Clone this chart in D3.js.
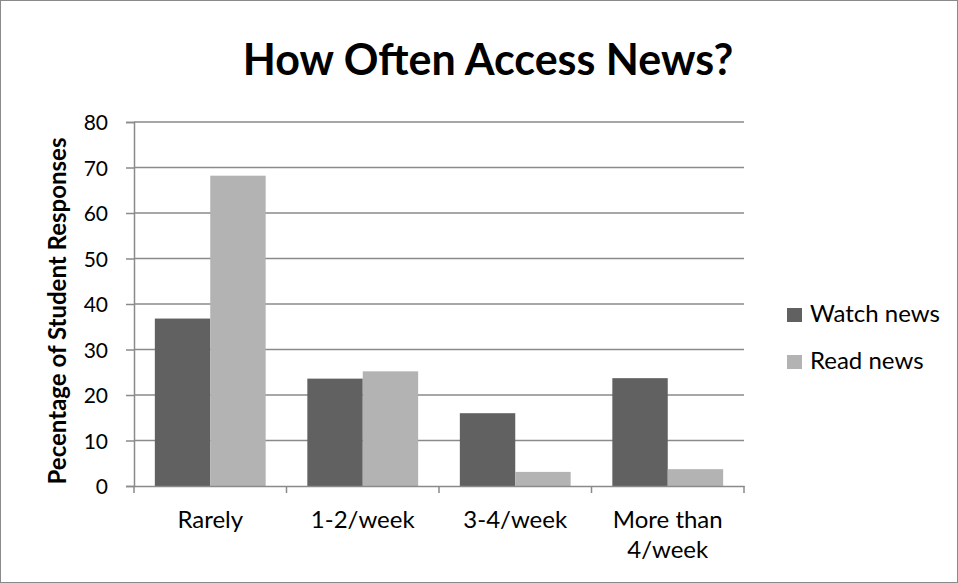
<!DOCTYPE html>
<html>
<head>
<meta charset="utf-8">
<script src="https://cdn.jsdelivr.net/npm/d3@7"></script>
<style>
  body { margin: 0; background: #fff; }
  svg { display: block; }
  svg text { font-family: Lato, "Open Sans", sans-serif; }
</style>
</head>
<body>
<div id="chart"></div>
<script>
// data
const categories = ['Rarely', '1-2/week', '3-4/week', 'More than 4/week'];
const seriesNames = ['Watch news', 'Read news'];
const watchNews = [36.8, 23.6, 16.0, 23.7];
const readNews = [68.2, 25.2, 3.1, 3.7];
const yTicks = [0, 10, 20, 30, 40, 50, 60, 70, 80];
const colors = ['#616161', '#b3b3b3'];

const width = 958;
const height = 583;
const margin = {top: 122, left: 134, right: 214, bottom: 97};
const plotW = width - margin.left - margin.right;
const plotH = height - margin.top - margin.bottom;
const axisColor = '#8a8a8a';

const svg = d3.select('#chart').append('svg').attr('width', width).attr('height', height);

// outer border
svg.append('rect').attr('x', 0.5).attr('y', 0.5).attr('width', width - 1).attr('height', height - 1)
  .attr('fill', '#fff').attr('stroke', axisColor);

const x = d3.scaleBand().domain(categories).range([0, plotW]).paddingInner(0).paddingOuter(0);
const xInner = d3.scaleBand().domain(seriesNames).range([0, x.bandwidth()]).paddingInner(0).paddingOuter(0.376);
const y = d3.scaleLinear().domain([0, 80]).range([plotH, 0]);

const g = svg.append('g').attr('transform', 'translate(' + margin.left + ',' + margin.top + ')');

// gridlines
g.selectAll('.grid').data(yTicks.filter(d => d > 0)).enter().append('line')
  .attr('x1', 0).attr('x2', plotW).attr('y1', d => y(d)).attr('y2', d => y(d))
  .attr('stroke', axisColor).attr('stroke-width', 1.5);

// bars
const rows = categories.map((c, i) => ({cat: c, vals: [watchNews[i], readNews[i]]}));
const groups = g.selectAll('.grp').data(rows).enter().append('g')
  .attr('transform', d => 'translate(' + x(d.cat) + ',0)');
groups.selectAll('rect').data(d => d.vals.map((v, j) => ({name: seriesNames[j], v: v, j: j}))).enter().append('rect')
  .attr('x', d => xInner(d.name)).attr('width', xInner.bandwidth())
  .attr('y', d => y(d.v)).attr('height', d => plotH - y(d.v))
  .attr('fill', d => colors[d.j]);

// y axis
const yAxis = d3.axisLeft(y).tickValues(yTicks).tickSize(8).tickPadding(18);
const ya = g.append('g').attr('font-family', null).call(yAxis);
ya.attr('font-family', null).attr('font-size', null);
ya.select('.domain').attr('stroke', axisColor).attr('stroke-width', 1.5);
ya.selectAll('.tick line').attr('stroke', axisColor).attr('stroke-width', 1.5);
ya.selectAll('.tick text').attr('font-size', 21).attr('fill', '#000').attr('dy', '0.36em');

// x axis
const xAxis = d3.axisBottom(x).tickSize(0).tickFormat('');
const xa = g.append('g').attr('transform', 'translate(0,' + plotH + ')').call(xAxis);
xa.attr('font-family', null).attr('font-size', null);
xa.select('.domain').attr('stroke', axisColor).attr('stroke-width', 1.5);
const bounds = d3.range(categories.length + 1).map(i => i * x.step());
xa.selectAll('.bound').data(bounds).enter().append('line')
  .attr('x1', d => d).attr('x2', d => d).attr('y1', 0).attr('y2', 7)
  .attr('stroke', axisColor).attr('stroke-width', 1.5);

// x labels, wrapped like the original
const wrapLabels = {'More than 4/week': ['More than', '4/week']};
categories.forEach(c => {
  const lines = wrapLabels[c] || [c];
  const cx = x(c) + x.bandwidth() / 2;
  const t = xa.append('text').attr('text-anchor', 'middle').attr('font-size', 24).attr('fill', '#000')
    .attr('x', cx).attr('y', 42);
  lines.forEach((ln, k) => t.append('tspan').attr('x', cx).attr('dy', k === 0 ? 0 : 30).text(ln));
});

// y axis title
svg.append('text').attr('transform', 'translate(66,311) rotate(-90)')
  .attr('text-anchor', 'middle').attr('font-size', 24).attr('font-weight', 'bold').attr('fill', '#000')
  .text('Pecentage of Student Responses');

// title
svg.append('text').attr('x', 488).attr('y', 75).attr('text-anchor', 'middle')
  .attr('font-size', 43).attr('font-weight', 'bold').attr('fill', '#000')
  .text('How Often Access News?');

// legend
const legend = svg.append('g').attr('transform', 'translate(787,308)');
seriesNames.forEach((s, i) => {
  const lg = legend.append('g').attr('transform', 'translate(0,' + i * 47 + ')');
  lg.append('rect').attr('width', 15).attr('height', 14).attr('fill', colors[i]);
  lg.append('text').attr('x', 23).attr('y', 14).attr('font-size', 24).attr('fill', '#000').text(s);
});
</script>
</body>
</html>
